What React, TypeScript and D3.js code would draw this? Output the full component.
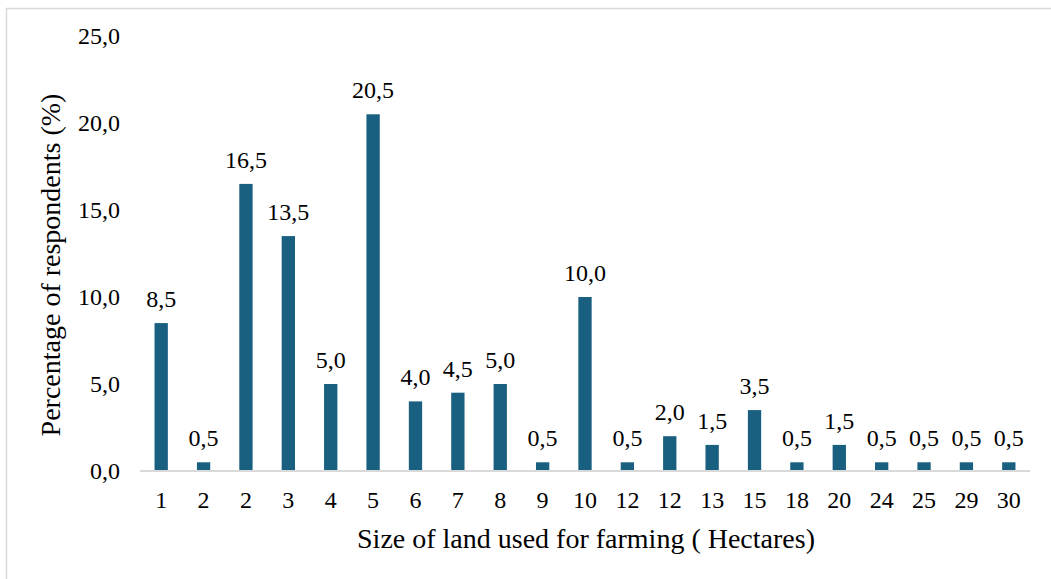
import React from "react";
import { scaleBand, scaleLinear } from "d3";

const categories = ["1","2","2","3","4","5","6","7","8","9","10","12","12","13","15","18","20","24","25","29","30"];
const values = [8.5,0.5,16.5,13.5,5.0,20.5,4.0,4.5,5.0,0.5,10.0,0.5,2.0,1.5,3.5,0.5,1.5,0.5,0.5,0.5,0.5];
const yTicks = [0,5,10,15,20,25];
const xTitle = "Size of land used for farming ( Hectares)";
const yTitle = "Percentage of respondents (%)";

const W = 1051, H = 579;
const left = 140, right = 1030, top = 36, bottom = 471;
const fmt = (v: number) => v.toFixed(1).replace(".", ",");
const FONT = "\"Liberation Serif\", \"Times New Roman\", Tinos, serif";

export default function App() {
  const idx = categories.map((_, i) => String(i));
  const x = scaleBand<string>().domain(idx).range([left, right]).paddingInner(0.686).paddingOuter(0.343);
  const y = scaleLinear().domain([0, 25]).range([bottom, top]);
  const small = { fontFamily: FONT, fontSize: 24 };
  const big = { fontFamily: FONT, fontSize: 28 };
  return (
    <svg width={W} height={H} style={{ position: "absolute", left: 0, top: 0 }}>
      <rect x={6.5} y={8.5} width={W} height={H} fill="white" stroke="#d9d9d9" strokeWidth={1.5} />
      {yTicks.map(t => (
        <text key={t} x={120} y={y(t) + 8} textAnchor="end" style={small}>{fmt(t)}</text>
      ))}
      {values.map((v, i) => {
        const cx = (x(String(i)) as number) + x.bandwidth() / 2;
        return (
          <g key={i}>
            <rect x={x(String(i))} y={y(v)} width={x.bandwidth()} height={bottom - y(v)} fill="#185f80" />
            <text x={cx} y={y(v) - 16} textAnchor="middle" style={small}>{fmt(v)}</text>
            <text x={cx} y={508} textAnchor="middle" style={small}>{categories[i]}</text>
          </g>
        );
      })}
      <line x1={left} x2={right} y1={bottom} y2={bottom} stroke="#d9d9d9" strokeWidth={2} />
      <text x={586} y={548} textAnchor="middle" style={big}>{xTitle}</text>
      <text transform={`translate(60,265) rotate(-90)`} textAnchor="middle" style={big}>{yTitle}</text>
    </svg>
  );
}
